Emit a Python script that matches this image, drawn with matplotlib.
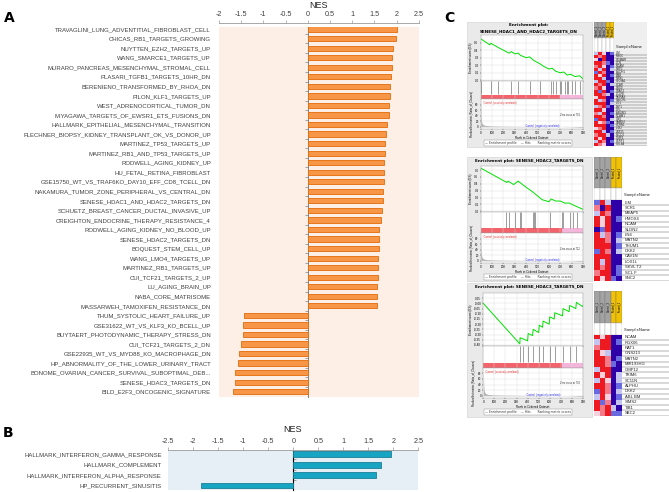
import numpy as np
import matplotlib
matplotlib.use('Agg')
import matplotlib.pyplot as plt
from matplotlib.colors import ListedColormap
from matplotlib.patches import Rectangle

plt.rcParams['font.family'] = ['Liberation Sans', 'DejaVu Sans']

W, H = 669, 492

# ---- panel A data ----
labels_a = ['TRAVAGLINI_LUNG_ADVENTITIAL_FIBROBLAST_CELL', 'CHICAS_RB1_TARGETS_GROWING',
            'NUYTTEN_EZH2_TARGETS_UP', 'WANG_SMARCE1_TARGETS_UP',
            'MURARO_PANCREAS_MESENCHYMAL_STROMAL_CELL', 'PLASARI_TGFB1_TARGETS_10HR_DN',
            'BERENIENO_TRANSFORMED_BY_RHOA_DN', 'PILON_KLF1_TARGETS_UP',
            'WEST_ADRENOCORTICAL_TUMOR_DN', 'MIYAGAWA_TARGETS_OF_EWSR1_ETS_FUSIONS_DN',
            'HALLMARK_EPITHELIAL_MESENCHYMAL_TRANSITION', 'FLECHNER_BIOPSY_KIDNEY_TRANSPLANT_OK_VS_DONOR_UP',
            'MARTINEZ_TP53_TARGETS_UP', 'MARTINEZ_RB1_AND_TP53_TARGETS_UP',
            'RODWELL_AGING_KIDNEY_UP', 'HU_FETAL_RETINA_FIBROBLAST',
            'GSE15750_WT_VS_TRAF6KO_DAY10_EFF_CD8_TCELL_DN', 'NAKAMURA_TUMOR_ZONE_PERIPHERAL_VS_CENTRAL_DN',
            'SENESE_HDAC1_AND_HDAC2_TARGETS_DN', 'SCHUETZ_BREAST_CANCER_DUCTAL_INVASIVE_UP',
            'CREIGHTON_ENDOCRINE_THERAPY_RESISTANCE_4', 'RODWELL_AGING_KIDNEY_NO_BLOOD_UP',
            'SENESE_HDAC2_TARGETS_DN', 'BOQUEST_STEM_CELL_UP',
            'WANG_LMO4_TARGETS_UP', 'MARTINEZ_RB1_TARGETS_UP',
            'CUI_TCF21_TARGETS_2_UP', 'LU_AGING_BRAIN_UP',
            'NABA_CORE_MATRISOME', 'MASSARWEH_TAMOXIFEN_RESISTANCE_DN',
            'THUM_SYSTOLIC_HEART_FAILURE_UP', 'GSE31622_WT_VS_KLF3_KO_BCELL_UP',
            'BUYTAERT_PHOTODYNAMIC_THERAPY_STRESS_DN', 'CUI_TCF21_TARGETS_2_DN',
            'GSE22935_WT_VS_MYD88_KO_MACROPHAGE_DN', 'HP_ABNORMALITY_OF_THE_LOWER_URINARY_TRACT',
            'BONOME_OVARIAN_CANCER_SURVIVAL_SUBOPTIMAL_DEB...', 'SENESE_HDAC3_TARGETS_DN',
            'BILD_E2F3_ONCOGENIC_SIGNATURE']
nes_a = [2.00, 1.99, 1.91, 1.89, 1.89, 1.87, 1.85, 1.85, 1.83, 1.82,
         1.79, 1.76, 1.75, 1.73, 1.72, 1.71, 1.71, 1.69, 1.69, 1.67,
         1.66, 1.60, 1.60, 1.60, 1.59, 1.59, 1.59, 1.56, 1.55, 1.55,
         -1.43, -1.45, -1.47, -1.50, -1.56, -1.58, -1.63, -1.65, -1.68]

# ---- panel B data ----
labels_b = ['HALLMARK_INTERFERON_GAMMA_RESPONSE', 'HALLMARK_COMPLEMENT',
            'HALLMARK_INTERFERON_ALPHA_RESPONSE', 'HP_RECURRENT_SINUSITIS']
nes_b = [1.95, 1.75, 1.65, -1.84]

# ---- panel C data ----
es1_rank = [0, 20, 80, 90, 160, 250, 270, 300, 330, 350, 400, 430, 470, 520, 560,
            600, 630, 660, 700, 730, 760, 790, 830, 870, 900]
es1_val = [0.55, 0.53, 0.47, 0.49, 0.43, 0.36, 0.38, 0.35, 0.36, 0.33, 0.30, 0.31, 0.26, 0.22, 0.18,
           0.15, 0.16, 0.12, 0.10, 0.11, 0.07, 0.08, 0.05, 0.06, 0.02]
hits1 = [5, 90, 150, 270, 330, 430, 520, 620, 640, 660, 700, 710, 740, 760, 770, 800, 830, 870]

es2_rank = [0, 230, 240, 290, 330, 345, 400, 460, 540, 600, 620, 660, 700, 740, 780, 830, 900]
es2_val = [0.63, 0.42, 0.44, 0.39, 0.44, 0.42, 0.35, 0.28, 0.17, 0.14, 0.18, 0.15, 0.15, 0.12, 0.12, 0.08, 0.03]
hits2 = [224, 245, 300, 345, 352, 460, 468, 476, 610, 715, 722, 785, 810, 850]

es3_rank = [0, 330, 332, 400, 405, 445, 450, 500, 505, 535, 540, 595, 600, 640, 645,
            715, 720, 775, 780, 835, 840, 895, 900]
es3_val = [0.0, -0.39, -0.33, -0.36, -0.29, -0.31, -0.25, -0.28, -0.21, -0.23, -0.17, -0.20, -0.13,
           -0.15, -0.09, -0.12, -0.05, -0.08, -0.02, -0.05, 0.01, -0.03, -0.02]
hits3 = [330, 355, 405, 450, 505, 540, 600, 645, 720, 780, 840]

metric_rank = [0, 4, 10, 20, 40, 80, 150, 300, 500, 700, 800, 900]
metric_val = [92, 35, 14, 8, 5, 3.5, 2.5, 1.5, 0.8, 0, -1, -3]

hm_cols = ['Control_1', 'Control_2', 'Control_3', 'Treated_1', 'Treated_2']

hm1 = [[2, 5, 3, 0, 1], [5, 4, 5, 0, 0], [3, 0, 5, 0, 0], [5, 5, 4, 1, 0], [4, 5, 3, 0, 1],
       [5, 2, 5, 0, 2], [1, 5, 4, 0, 0], [5, 3, 5, 0, 1], [5, 5, 2, 0, 0], [2, 5, 5, 1, 0],
       [5, 4, 5, 0, 2], [4, 5, 3, 0, 0], [5, 1, 5, 0, 1], [5, 5, 4, 2, 0], [3, 5, 5, 0, 0],
       [5, 2, 4, 0, 1], [5, 5, 5, 0, 2], [2, 4, 5, 1, 0], [5, 5, 3, 0, 0], [4, 2, 5, 0, 1],
       [5, 5, 4, 0, 0], [1, 5, 5, 0, 2], [5, 3, 4, 1, 0], [5, 5, 5, 0, 1], [3, 4, 5, 0, 0],
       [5, 5, 2, 0, 1], [4, 5, 5, 2, 0], [5, 3, 5, 0, 0], [2, 5, 4, 0, 1], [5, 4, 3, 0, 0]]
genes1 = ['LIM', 'MYOC', 'SIGMAR', 'DCN', 'MCAM', 'NRP2', 'ALDH1', 'EMB', 'MTN1', 'SLC8A1',
          'HCAR', 'SOX9', 'TRAF3', 'DCLRE', 'NKIRAS', 'CALCRL', 'LIG1', 'LSP1', 'SVIL', 'ABLIM1',
          'NCAM1', 'GNS', 'SAMD4', 'SCRN1', 'LNX2', 'ZNF25', 'PLOD2', 'TIMP3', 'SERP1', 'COL4A']

hm2 = [[1, 5, 2, 0, 0], [4, 0, 5, 0, 0], [2, 5, 4, 0, 0], [5, 3, 5, 0, 1], [5, 3, 5, 0, 0],
       [0, 1, 5, 0, 0], [5, 2, 4, 0, 1], [5, 5, 4, 0, 2], [5, 5, 5, 0, 1], [1, 5, 4, 0, 2],
       [5, 5, 5, 0, 0], [5, 2, 5, 0, 0], [5, 4, 5, 0, 1], [4, 5, 5, 0, 1], [5, 3, 5, 1, 0]]
genes2 = ['LIM', 'SCR1', 'MEAP5', 'HMOX4', 'NCAM', 'SLDN2', 'LN4', 'MATN2', 'THUM1', 'DKK2',
          'CAV1N', 'LOX1L', 'SKVL T2', 'SCL F', 'SNC2']

hm3 = [[5, 3, 5, 0, 0], [2, 5, 5, 0, 1], [4, 5, 5, 0, 0], [5, 3, 2, 0, 0], [5, 5, 4, 0, 1],
       [5, 5, 4, 1, 0], [2, 5, 5, 0, 0], [5, 3, 5, 0, 2], [2, 5, 3, 0, 2], [5, 5, 4, 0, 1],
       [1, 5, 4, 0, 2], [2, 5, 3, 0, 1], [5, 1, 4, 0, 2], [5, 4, 5, 2, 0], [3, 4, 5, 1, 1]]
genes3 = ['NCAM', 'RGX06', 'RAT1', 'GNS213', 'MATN2', 'MIR193HG', 'GMP12', 'TRIM6', 'SC11N',
          'ALPHU', 'DKK2', 'ABL BM', 'SIMS2', 'TIB1', 'SBC2']

fig = plt.figure(figsize=(W / 100, H / 100), dpi=100)


def px_axes(x0, y0, x1, y1):
    return fig.add_axes([x0 / W, 1 - y1 / H, (x1 - x0) / W, (y1 - y0) / H])


def px_rect(x0, y0, x1, y1, **kw):
    fig.patches.append(Rectangle((x0 / W, 1 - y1 / H), (x1 - x0) / W, (y1 - y0) / H,
                                 transform=fig.transFigure, **kw))


def px_text(x, y, s, **kw):
    fig.text(x / W, 1 - y / H, s, **kw)


def nes_chart(ax, labels, vals, lo, hi, face, col, edge, gap, ylim, pad):
    y = np.arange(len(labels))
    ax.set_facecolor(face)
    ax.barh(y, vals, height=0.55, color=col, edgecolor=edge, linewidth=0.6, zorder=3)
    ax.set_xlim(lo, hi)
    ax.set_ylim(*ylim)
    ticks = np.round(np.arange(lo, hi + 0.01, 0.5), 1) + 0.0
    ax.xaxis.tick_top()
    ax.set_xticks(ticks)
    ax.set_xticklabels([f'{t:g}' for t in ticks])
    ax.tick_params(axis='x', labelsize=5.2, labelcolor='#404040', length=2, width=0.5,
                   pad=1.5, color='#999999')
    ax.set_yticks(y)
    ax.set_yticklabels(labels)
    ax.tick_params(axis='y', length=0, labelsize=4.35, labelcolor='#404040', pad=pad)
    for s in ['left', 'right', 'bottom']:
        ax.spines[s].set_visible(False)
    ax.spines['top'].set_position(('outward', gap))
    ax.spines['top'].set_color('#999999')
    ax.spines['top'].set_linewidth(0.6)
    sec = ax.secondary_yaxis(-lo / (hi - lo))
    sec.set_yticks(y[:-1] + 0.5)
    sec.tick_params(labelleft=False, labelright=False, length=2.5, width=0.5, color='#808080')
    sec.spines['left'].set_color('#808080')
    sec.spines['left'].set_linewidth(0.7)


# ---- panel A ----
axA = px_axes(219, 26.7, 418.7, 397)
nes_chart(axA, labels_a, nes_a, -2, 2.5, '#FDEEE6', '#F79646', '#E36C09', 2.8,
          (len(labels_a) - 1 + 0.55, -0.25), 5.8)
px_text(318, 5, 'NES', fontsize=6.5, ha='center', va='center', color='#222222')
px_text(9, 17.5, 'A', fontsize=10, fontweight='bold', ha='center', va='center', family='DejaVu Sans')

# ---- panel B ----
axB = px_axes(168.3, 451, 418.3, 490)
nes_chart(axB, labels_b, nes_b, -2.5, 2.5, '#E6EFF5', '#17A5C3', '#1B7F96', 1,
          (3.45, -0.32), 4.8)
px_text(293, 430, 'NES', fontsize=6.5, ha='center', va='center', color='#222222')
px_text(8, 433, 'B', fontsize=10, fontweight='bold', ha='center', va='center', family='DejaVu Sans')

# ---- panel C ----
px_text(449, 17.5, 'C', fontsize=10, fontweight='bold', ha='center', va='center', family='DejaVu Sans')


def gsea(box, x0, es_y, hit_y, met_y, rank, es, hits, es_lim, es_ticks, red_end, title, title_y, leg_y):
    px_rect(*box, facecolor='#EAEAEA', edgecolor='#D0D0D0', linewidth=0.4, zorder=-1)
    for i, line in enumerate(title):
        px_text(529, title_y + i * 6, line, fontsize=3, fontweight='bold', ha='center', va='center',
                family='DejaVu Sans')
    ax1 = px_axes(x0, es_y[0], 583, es_y[1])
    ax1.plot(rank, es, color='#00E000', lw=0.7)
    ax1.set_xlim(0, 900)
    ax1.set_ylim(*es_lim)
    ax1.set_yticks(es_ticks)
    ax1.set_yticklabels([f'{t:.2f}' if len(es_ticks) > 8 else f'{t:.1f}' for t in es_ticks])
    ax1.set_xticks(np.arange(0, 901, 100))
    ax1.grid(color='#DDDDDD', lw=0.3)
    ax1.tick_params(labelbottom=False, length=1, width=0.3, labelsize=2.2, pad=0.5)
    ax1.set_ylabel('Enrichment score (ES)', fontsize=2.2, labelpad=1)

    ax2 = px_axes(x0, hit_y[0], 583, hit_y[1])
    ax2.vlines(hits, 0.25, 1, color='#555555', lw=0.4)
    ax2.broken_barh([(0, red_end), (red_end, 900 - red_end)], (0, 0.22),
                    facecolors=['#F2636C', '#F5B5DA'])
    ax2.set_xlim(0, 900)
    ax2.set_ylim(0, 1)
    ax2.set_xticks(np.arange(0, 901, 100))
    ax2.set_yticks([])
    ax2.grid(axis='x', color='#DDDDDD', lw=0.3)
    ax2.tick_params(labelbottom=False, length=0)

    ax3 = px_axes(x0, met_y[0], 583, met_y[1])
    ax3.fill_between(metric_rank, metric_val, color='#B4B4B4', lw=0)
    ax3.set_xlim(0, 900)
    ax3.set_ylim(-8, 100)
    ax3.set_yticks([0, 20, 40, 60, 80])
    ax3.set_xticks(np.arange(0, 901, 100))
    ax3.grid(color='#DDDDDD', lw=0.3)
    ax3.tick_params(length=1, width=0.3, labelsize=2.2, pad=0.5)
    ax3.set_xlabel('Rank in Ordered Dataset', fontsize=2.2, labelpad=0.5)
    ax3.set_ylabel('Ranked list metric (Ratio_of_Classes)', fontsize=2.0, labelpad=1)
    ax3.text(0.02, 0.92, "'Control' (positively correlated)", transform=ax3.transAxes,
             fontsize=1.8, color='#E03030', va='top')
    ax3.text(0.97, 0.45, 'Zero cross at %d' % red_end, transform=ax3.transAxes,
             fontsize=1.8, color='#333333', ha='right')
    ax3.text(0.6, 0.08, "'Control' (negatively correlated)", transform=ax3.transAxes,
             fontsize=1.8, color='#3030E0', ha='center')
    for ax in (ax1, ax2, ax3):
        for s in ax.spines.values():
            s.set_linewidth(0.3)
            s.set_color('#999999')
    px_text(528, leg_y, '\u2014 Enrichment profile    \u2014 Hits       Ranking metric scores',
            fontsize=2.2, ha='center', va='center', color='#333333', family='DejaVu Sans',
            bbox=dict(boxstyle='square,pad=0.4', fc='white', ec='#888888', lw=0.3))


gsea((467, 22, 592, 147), 480.7, (35, 80.7), (80.7, 99), (99, 129),
     es1_rank, es1_val, hits1, (-0.005, 0.6), np.round(np.arange(0, 0.51, 0.1), 1), 700,
     ['Enrichment plot:', 'SENESE_HDAC1_AND_HDAC2_TARGETS_DN'], 25, 143)
gsea((467, 157, 592, 281), 480.7, (166, 211.7), (211.7, 233), (233, 263),
     es2_rank, es2_val, hits2, (-0.005, 0.66), np.round(np.arange(0, 0.61, 0.1), 1), 712,
     ['Enrichment plot: SENESE_HDAC2_TARGETS_DN'], 161, 277)
gsea((467, 283, 592, 417), 483.3, (293, 346), (346, 367.7), (367.7, 398),
     es3_rank, es3_val, hits3, (-0.41, 0.10), np.round(np.arange(-0.40, 0.051, 0.05), 2), 708,
     ['Enrichment plot: SENESE_HDAC3_TARGETS_DN'], 287, 412)

hm_cmap = ListedColormap(['#2E00A8', '#6A6AE0', '#C4C4F0', '#F6D2DE', '#F47A88', '#EE1A22'])


def heat(hx0, hx1, head_y, cell_y, line_x1, data, genes, frac, name_fs):
    hax = px_axes(hx0, head_y[0], hx1, head_y[1])
    cols = np.arange(len(hm_cols))
    hcol = ['#A3A3A3'] * 3 + ['#F2C200'] * 2
    hax.bar(cols, frac, bottom=1 - frac, width=1, color=hcol, edgecolor='#777777', lw=0.3)
    hax.bar(cols, 1 - frac, bottom=0, width=1, color='white', edgecolor='#AAAAAA', lw=0.3)
    for c in cols:
        hax.text(c, 1 - frac / 2, hm_cols[c], rotation=90, fontsize=1.8, ha='center', va='center')
    hax.set_xlim(-0.5, len(cols) - 0.5)
    hax.set_ylim(0, 1)
    hax.axis('off')
    px_text(hx1 + 2, head_y[1] - 5, 'Sampl eName', fontsize=3, va='center', color='#222222')

    cax = px_axes(hx0, cell_y[0], hx1, cell_y[1])
    cax.imshow(data, cmap=hm_cmap, vmin=-0.5, vmax=5.5, aspect='auto', interpolation='nearest')
    cax.axis('off')

    nax = px_axes(hx1, cell_y[0], line_x1, cell_y[1])
    n = len(genes)
    nax.set_xlim(0, 1)
    nax.set_ylim(n - 0.5, -0.5)
    nax.hlines(np.arange(n) + 0.5, 0, 1, color='#666666', lw=0.35)
    for i, g in enumerate(genes):
        nax.text(0.06, i, g, fontsize=name_fs, va='center', color='#222222')
    nax.axis('off')


px_rect(594, 22, 647, 146, facecolor='#EFEFEF', edgecolor='none', zorder=-1)
heat(594, 614, (22, 51.7), (51.7, 145.7), 647, hm1, genes1, 0.55, 2.0)
heat(594, 621.7, (157, 200), (200, 280.7), 669, hm2, genes2, 0.72, 3.0)
heat(594, 621.7, (291, 334.5), (334.5, 415.7), 669, hm3, genes3, 0.73, 3.0)

fig.savefig('out.png', dpi=100)
